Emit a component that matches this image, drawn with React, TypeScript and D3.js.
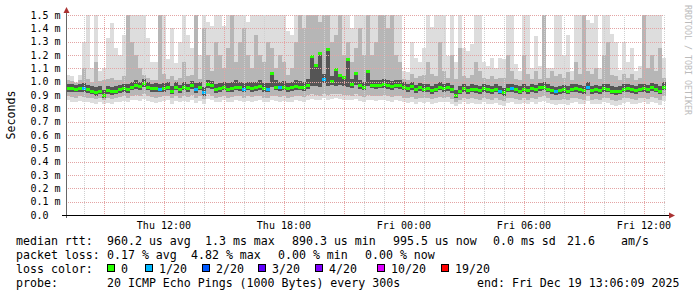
import React from "react";
import * as d3 from "d3";

// ---- time range (30 h, bins of 12 min) ----
const START = new Date(2025, 11, 18, 7, 6, 9);
const END = new Date(2025, 11, 19, 13, 6, 9);
const STEP_MS = 720000;

// ---- RTT values per bin, in microseconds ----
const medianUs = [
  950, 950, 945, 950, 950, 940, 930, 920, 930, 900,
  935, 925, 930, 940, 950, 940, 960, 970, 965, 990,
  960, 950, 950, 945, 950, 960, 930, 960, 940, 960,
  950, 970, 940, 960, 920, 980, 970, 940, 950, 960,
  945, 950, 960, 955, 945, 960, 950, 955, 965, 950,
  945, 1060, 960, 955, 960, 950, 955, 965, 960, 955,
  970, 1190, 1120, 1210, 1020, 1245, 1000, 1090, 1050, 1030,
  1170, 980, 1060, 970, 960, 1075, 975, 970, 975, 980,
  970, 965, 975, 970, 960, 950, 965, 940, 955, 945,
  950, 935, 945, 960, 950, 955, 940, 900, 930, 950,
  935, 945, 940, 935, 950, 940, 935, 945, 930, 920,
  945, 950, 940, 930, 945, 935, 950, 940, 955, 960,
  945, 935, 925, 935, 940, 930, 945, 950, 940, 935,
  960, 935, 940, 935, 950, 945, 930, 925, 930, 945,
  950, 940, 935, 945, 950, 940, 955, 945, 930, 960,
];
const lowUs = [
  860, 850, 845, 855, 850, 845, 840, 835, 845, 830,
  840, 830, 845, 850, 855, 845, 860, 865, 855, 870,
  855, 845, 840, 850, 855, 860, 835, 855, 845, 855,
  850, 865, 840, 855, 830, 870, 860, 845, 850, 860,
  845, 850, 860, 855, 845, 855, 850, 855, 860, 845,
  845, 860, 855, 850, 855, 845, 850, 860, 855, 850,
  865, 870, 865, 860, 875, 865, 870, 875, 870, 865,
  865, 860, 870, 855, 850, 865, 860, 855, 860, 865,
  855, 850, 860, 855, 845, 840, 850, 835, 845, 840,
  845, 835, 840, 850, 845, 850, 835, 820, 830, 845,
  835, 840, 835, 830, 845, 835, 830, 840, 825, 820,
  840, 845, 835, 830, 840, 830, 845, 835, 850, 855,
  840, 830, 825, 830, 835, 825, 840, 845, 835, 830,
  855, 830, 835, 830, 845, 840, 825, 820, 825, 840,
  845, 835, 830, 840, 845, 835, 850, 840, 825, 855,
];
const p10Us = [
  890, 885, 880, 890, 885, 880, 875, 870, 880, 860,
  875, 870, 880, 885, 890, 880, 895, 900, 890, 910,
  890, 885, 880, 885, 890, 895, 875, 890, 880, 890,
  885, 900, 880, 890, 870, 905, 895, 880, 885, 895,
  880, 885, 895, 890, 880, 890, 885, 890, 895, 880,
  880, 895, 890, 885, 890, 880, 885, 895, 890, 885,
  900, 905, 900, 895, 910, 900, 905, 910, 905, 900,
  900, 895, 905, 890, 885, 900, 895, 890, 895, 900,
  890, 885, 895, 890, 880, 875, 885, 870, 880, 875,
  880, 870, 875, 885, 880, 885, 870, 850, 865, 880,
  870, 875, 870, 865, 880, 870, 865, 875, 860, 855,
  875, 880, 870, 865, 875, 865, 880, 870, 885, 890,
  875, 865, 860, 865, 870, 860, 875, 880, 870, 865,
  890, 865, 870, 865, 880, 875, 860, 855, 860, 875,
  880, 870, 865, 875, 880, 870, 885, 875, 860, 890,
];
const q1Us = [
  925, 925, 920, 925, 925, 915, 905, 895, 905, 875,
  910, 900, 905, 915, 925, 915, 935, 945, 940, 960,
  935, 925, 925, 920, 925, 935, 905, 935, 915, 935,
  925, 945, 915, 935, 895, 955, 945, 915, 925, 935,
  920, 925, 935, 930, 920, 935, 925, 930, 940, 925,
  920, 960, 935, 930, 935, 925, 930, 940, 935, 930,
  945, 965, 970, 960, 990, 965, 975, 970, 975, 970,
  960, 955, 975, 945, 935, 965, 950, 945, 950, 955,
  945, 940, 950, 945, 935, 925, 940, 915, 930, 920,
  925, 910, 920, 935, 925, 930, 915, 875, 905, 925,
  910, 920, 915, 910, 925, 915, 910, 920, 905, 895,
  920, 925, 915, 905, 920, 910, 925, 915, 930, 935,
  920, 910, 900, 910, 915, 905, 920, 925, 915, 910,
  935, 910, 915, 910, 925, 920, 905, 900, 905, 920,
  925, 915, 910, 920, 925, 915, 930, 920, 905, 935,
];
const q3Us = [
  985, 980, 975, 985, 990, 975, 965, 960, 965, 940,
  970, 960, 965, 975, 985, 980, 1000, 1010, 1000, 1020,
  995, 985, 990, 980, 990, 995, 970, 995, 975, 995,
  985, 1005, 990, 995, 960, 1015, 1005, 980, 990, 1000,
  990, 1000, 1010, 995, 990, 1000, 995, 1000, 1010, 990,
  990, 1060, 1010, 1000, 1005, 990, 1000, 1010, 1005, 1000,
  1020, 1190, 1120, 1210, 1060, 1245, 1040, 1090, 1050, 1030,
  1170, 1020, 1060, 1010, 1000, 1075, 1015, 1010, 1015, 1020,
  1010, 1005, 1010, 1010, 995, 985, 1000, 975, 990, 980,
  985, 970, 980, 995, 985, 990, 975, 940, 965, 985,
  970, 980, 975, 970, 985, 975, 970, 980, 965, 955,
  980, 985, 975, 965, 980, 970, 985, 975, 990, 995,
  980, 970, 960, 970, 975, 965, 980, 985, 975, 970,
  995, 970, 975, 970, 985, 980, 965, 960, 965, 980,
  985, 975, 970, 980, 985, 975, 990, 980, 965, 995,
];
const p90Us = [
  1010, 1005, 990, 1010, 1100, 1020, 1000, 1150, 1005, 1010,
  1020, 1030, 1010, 1010, 1040, 1500, 1300, 1200, 1100, 1050,
  1030, 1010, 1010, 1500, 1060, 1020, 1040, 1010, 1030, 1150,
  1040, 1050, 1500, 1020, 1400, 1200, 1080, 1300, 1200, 1100,
  1250, 1500, 1150, 1300, 1400, 1200, 1100, 1350, 1200, 1150,
  1300, 1250, 1100, 1200, 1150, 1050, 1100, 1300, 1500, 1400,
  1500, 1500, 1500, 1450, 1500, 1500, 1300, 1350, 1500, 1200,
  1300, 1150, 1250, 1400, 1200, 1500, 1200, 1300, 1500, 1500,
  1400, 1500, 1200, 1150, 1020, 1010, 1060, 1030, 1040, 1050,
  1150, 1060, 1040, 1300, 1080, 1030, 1200, 1020, 1250, 1040,
  1030, 1050, 1150, 1080, 1030, 1020, 1040, 1020, 1030, 1030,
  1200, 1080, 1020, 1010, 1200, 1060, 1020, 1080, 1020, 1500,
  1030, 1080, 1040, 1060, 1030, 1070, 1010, 1150, 1060, 1500,
  1080, 1060, 1100, 1020, 1200, 1300, 1050, 1040, 1010, 1060,
  1030, 1060, 1010, 1030, 1500, 1100, 1200, 1080, 1250, 1030,
];
const highUs = [
  1050, 1040, 1000, 1050, 1300, 1500, 1100, 1500, 1080, 1100,
  1330, 1440, 1250, 1200, 1350, 1500, 1500, 1500, 1500, 1500,
  1330, 1150, 1150, 1500, 1500, 1170, 1400, 1140, 1300, 1500,
  1350, 1250, 1500, 1200, 1500, 1450, 1420, 1500, 1500, 1420,
  1500, 1500, 1500, 1500, 1500, 1450, 1500, 1500, 1500, 1500,
  1500, 1500, 1500, 1500, 1500, 1380, 1350, 1500, 1500, 1500,
  1500, 1500, 1500, 1500, 1500, 1500, 1500, 1500, 1500, 1500,
  1500, 1400, 1500, 1500, 1500, 1500, 1500, 1500, 1500, 1500,
  1500, 1500, 1500, 1500, 1080, 1070, 1300, 1180, 1150, 1250,
  1500, 1410, 1500, 1500, 1500, 1190, 1500, 1150, 1500, 1250,
  1230, 1280, 1500, 1500, 1150, 1120, 1180, 1100, 1180, 1170,
  1500, 1500, 1130, 1080, 1500, 1500, 1100, 1340, 1120, 1500,
  1100, 1100, 1500, 1500, 1200, 1350, 1080, 1500, 1500, 1500,
  1460, 1440, 1500, 1100, 1500, 1500, 1360, 1300, 1090, 1300,
  1150, 1250, 1080, 1120, 1500, 1500, 1500, 1500, 1500, 1180,
];
// lost pings out of 20 per bin
const lossPings = [
  0, 0, 0, 0, 1, 0, 0, 0, 0, 0,
  0, 0, 0, 0, 0, 0, 0, 0, 0, 0,
  0, 0, 0, 1, 0, 0, 0, 0, 0, 0,
  0, 0, 1, 0, 1, 0, 0, 0, 0, 0,
  0, 0, 0, 0, 1, 0, 0, 0, 0, 0,
  1, 0, 0, 1, 0, 0, 0, 0, 0, 0,
  0, 0, 0, 0, 1, 0, 0, 0, 0, 0,
  0, 0, 0, 0, 0, 0, 0, 0, 0, 0,
  0, 0, 0, 0, 0, 0, 0, 0, 0, 0,
  0, 0, 0, 0, 0, 0, 0, 0, 0, 0,
  0, 0, 0, 0, 0, 0, 0, 0, 1, 0,
  0, 1, 0, 0, 0, 0, 0, 0, 0, 0,
  0, 0, 1, 0, 0, 0, 0, 0, 0, 0,
  1, 0, 0, 0, 0, 0, 0, 0, 0, 0,
  0, 0, 0, 0, 0, 0, 0, 0, 0, 0,
];

const yTickValues = [0, 0.1, 0.2, 0.3, 0.4, 0.5, 0.6, 0.7, 0.8, 0.9, 1.0, 1.1, 1.2, 1.3, 1.4, 1.5];
const yTickLabels = ["0.0", "0.1 m", "0.2 m", "0.3 m", "0.4 m", "0.5 m", "0.6 m", "0.7 m", "0.8 m", "0.9 m", "1.0 m", "1.1 m", "1.2 m", "1.3 m", "1.4 m", "1.5 m"];

const lossLevels = [0, 1, 2, 3, 4, 10, 19];
const lossLabels = ["0", "1/20", "2/20", "3/20", "4/20", "10/20", "19/20"];
const lossColorList = ["#26ff00", "#00b8ff", "#0059ff", "#5e00ff", "#7e00ff", "#dd00ff", "#ff0000"];

const rowMedian = ["median rtt:", "960.2 us avg", "1.3 ms max", "890.3 us min", "995.5 us now", "0.0 ms sd", "21.6", "am/s"];
const rowLoss = ["packet loss:", "0.17 % avg", "4.82 % max", "0.00 % min", "0.00 % now"];
const rowProbe = ["probe:", "20 ICMP Echo Pings (1000 Bytes) every 300s", "end: Fri Dec 19 13:06:09 2025"];

const W = 697;
const H = 297;
const PL = 66, PR = 666, PT = 15, PB = 215;
const MONO = "'DejaVu Sans Mono', monospace";

function lossColor(n: number) {
  let c = lossColorList[0];
  lossLevels.forEach((lv, i) => {
    if (n >= lv) c = lossColorList[i];
  });
  return c;
}

export default function App() {
  const x = d3.scaleTime().domain([START, END]).range([PL, PR]);
  const y = d3.scaleLinear().domain([0, 1.5]).range([PB, PT]).clamp(true);
  const yv = (us: number) => y(us / 1000);

  const bins = medianUs.map((m, i) => {
    const t0 = new Date(START.getTime() + i * STEP_MS);
    const t1 = new Date(START.getTime() + (i + 1) * STEP_MS);
    return { i, x0: x(t0), x1: x(t1), m };
  });

  const band = (lo: number[], hi: number[], fill: string, key: string) =>
    bins.map((b) => {
      const top = yv(hi[b.i]);
      const bot = yv(lo[b.i]);
      return (
        <rect key={key + b.i} x={b.x0} y={top} width={b.x1 - b.x0} height={Math.max(0, bot - top)} fill={fill} />
      );
    });

  const hours = d3.timeHour.range(START, END);
  const minorHours = hours.filter((h) => h.getHours() % 3 !== 0);
  const majorHours = hours.filter((h) => h.getHours() % 3 === 0);
  const labelHours = hours.filter((h) => h.getHours() % 6 === 0);
  const fmt = d3.timeFormat("%a %H:%M");

  const row1X = [16, 107, 205, 292, 393, 493, 567, 621];
  const row2X = [16, 107, 191, 278, 365];
  const row4X = [16, 107, 477];
  const sqX = [107, 145, 202, 258, 315, 377, 441];

  return (
    <svg width={W} height={H} style={{ position: "absolute", left: 0, top: 0, background: "#fff" }} fontFamily={MONO}>
      <rect x={0} y={0} width={W} height={H} fill="#ffffff" />
      <g shapeRendering="crispEdges">
        {band(lowUs, highUs, "#dddddd", "l")}
        {band(p10Us, p90Us, "#b6b6b6", "m")}
        {band(q1Us, q3Us, "#555555", "d")}
        {bins.map((b) => (
          <rect key={"md" + b.i} x={b.x0} y={yv(b.m) - 1.5} width={b.x1 - b.x0} height={3} fill={lossColor(lossPings[b.i])} />
        ))}
      </g>
      <g shapeRendering="crispEdges" fill="none" strokeWidth={1} strokeDasharray="1,1">
        {yTickValues.slice(1).map((v) => {
          const yy = Math.round(y(v)) + 0.5;
          return <line key={"hg" + v} x1={PL} x2={PR} y1={yy} y2={yy} stroke="#e4a4a4" />;
        })}
        {minorHours.map((h) => {
          const xx = Math.round(x(h)) + 0.5;
          return <line key={"vm" + h.getTime()} x1={xx} x2={xx} y1={PT} y2={PB} stroke="#d0d0d0" />;
        })}
        {majorHours.map((h) => {
          const xx = Math.round(x(h)) + 0.5;
          return <line key={"vM" + h.getTime()} x1={xx} x2={xx} y1={PT} y2={PB} stroke="#e4a4a4" />;
        })}
      </g>
      {/* axes */}
      <g shapeRendering="crispEdges">
        <line x1={PL + 0.5} x2={PL + 0.5} y1={PB + 3} y2={10} stroke="#666" />
        <line x1={PL - 4} x2={PR + 4} y1={PB + 0.5} y2={PB + 0.5} stroke="#000" />
      </g>
      <path d={`M${PL + 0.5},7 L${PL - 2.5},13 L${PL + 3.5},13 Z`} fill="#a33" />
      <path d={`M${PR + 9},${PB + 0.5} L${PR + 3},${PB - 2.5} L${PR + 3},${PB + 3.5} Z`} fill="#a33" />
      {/* y tick labels */}
      {yTickValues.map((v, i) => (
        <text key={"yl" + i} x={30.5} y={y(v) + 3.5} fontSize={10} fill="#000">
          {yTickLabels[i]}
        </text>
      ))}
      {/* x tick labels */}
      {labelHours.map((h) => (
        <text key={"xl" + h.getTime()} x={x(h)} y={228.5} fontSize={10} textAnchor="middle" fill="#000">
          {fmt(h)}
        </text>
      ))}
      <text transform="translate(15,115) rotate(-90)" fontSize={11.6} textAnchor="middle" fill="#000">
        Seconds
      </text>
      <text transform="translate(685,5) rotate(90)" fontSize={8.3} fill="#bbb">
        RRDTOOL / TOBI OETIKER
      </text>
      {/* legend */}
      <g fontSize={11.6} fill="#000">
        {rowMedian.map((s, i) => (
          <text key={"r1" + i} x={row1X[i]} y={245}>{s}</text>
        ))}
        {rowLoss.map((s, i) => (
          <text key={"r2" + i} x={row2X[i]} y={259}>{s}</text>
        ))}
        <text x={16} y={272.5}>loss color:</text>
        {lossLabels.map((s, i) => (
          <g key={"lc" + i}>
            <rect x={sqX[i] + 0.5} y={264.5} width={7} height={7} fill={lossColorList[i]} stroke="#000" strokeWidth={1} shapeRendering="crispEdges" />
            <text x={sqX[i] + 14} y={272.5}>{s}</text>
          </g>
        ))}
        {rowProbe.map((s, i) => (
          <text key={"r4" + i} x={row4X[i]} y={286.5}>{s}</text>
        ))}
      </g>
    </svg>
  );
}
